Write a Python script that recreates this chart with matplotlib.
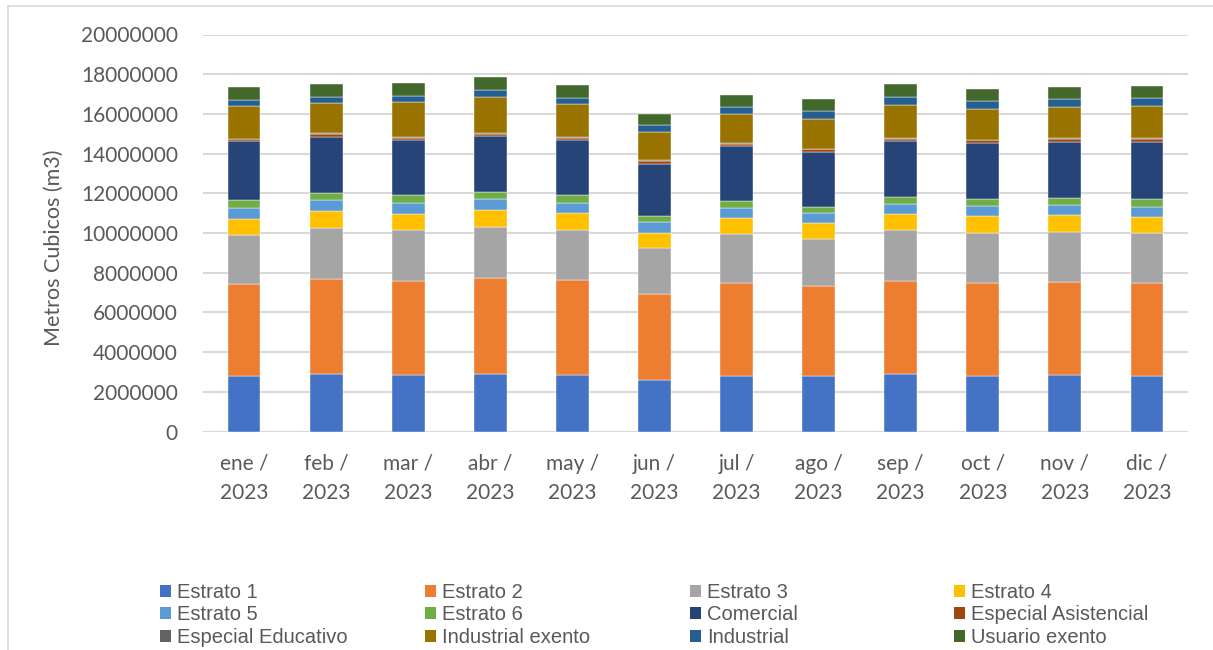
import matplotlib
matplotlib.use("Agg")
import matplotlib.pyplot as plt
from matplotlib.patches import Patch
from matplotlib.lines import Line2D
import numpy as np

months = ["ene /\n2023", "feb /\n2023", "mar /\n2023", "abr /\n2023", "may /\n2023", "jun /\n2023",
          "jul /\n2023", "ago /\n2023", "sep /\n2023", "oct /\n2023", "nov /\n2023", "dic /\n2023"]

series_names = ["Estrato 1", "Estrato 2", "Estrato 3", "Estrato 4", "Estrato 5", "Estrato 6",
                "Comercial", "Especial Asistencial", "Especial Educativo", "Industrial exento",
                "Industrial", "Usuario exento"]

# values in cubic meters
estrato_1 = [2810000, 2890000, 2860000, 2910000, 2860000, 2610000, 2790000, 2790000, 2890000, 2810000, 2860000, 2810000]
estrato_2 = [4640000, 4810000, 4740000, 4820000, 4770000, 4320000, 4680000, 4560000, 4710000, 4690000, 4690000, 4660000]
estrato_3 = [2470000, 2560000, 2540000, 2580000, 2530000, 2330000, 2480000, 2370000, 2560000, 2520000, 2520000, 2520000]
estrato_4 = [770000, 840000, 840000, 840000, 840000, 740000, 810000, 790000, 800000, 860000, 830000, 820000]
estrato_5 = [580000, 570000, 550000, 570000, 530000, 560000, 510000, 500000, 520000, 500000, 530000, 520000]
estrato_6 = [370000, 350000, 370000, 340000, 370000, 300000, 330000, 310000, 320000, 320000, 340000, 370000]
comercial = [2990000, 2830000, 2800000, 2840000, 2760000, 2640000, 2780000, 2740000, 2810000, 2840000, 2790000, 2890000]
especial_asistencial = [100000, 150000, 100000, 110000, 150000, 140000, 110000, 150000, 150000, 140000, 190000, 160000]
especial_educativo = [30000, 30000, 30000, 30000, 30000, 30000, 30000, 30000, 30000, 30000, 30000, 30000]
industrial_exento = [1620000, 1520000, 1750000, 1790000, 1640000, 1400000, 1490000, 1500000, 1650000, 1550000, 1580000, 1610000]
industrial = [330000, 280000, 300000, 350000, 320000, 350000, 320000, 420000, 390000, 370000, 370000, 390000]
usuario_exento = [660000, 670000, 660000, 660000, 650000, 590000, 640000, 600000, 660000, 600000, 610000, 620000]

series_values = [estrato_1, estrato_2, estrato_3, estrato_4, estrato_5, estrato_6, comercial,
                 especial_asistencial, especial_educativo, industrial_exento, industrial, usuario_exento]

colors = ["#4472C4", "#ED7D31", "#A5A5A5", "#FFC000", "#5B9BD5", "#70AD47",
          "#264478", "#9E480E", "#636363", "#997300", "#255E91", "#43682B"]

y_ticks = list(range(0, 20000001, 2000000))

W, H = 1213, 650
fig = plt.figure(figsize=(W / 100, H / 100), dpi=100)
fig.patch.set_facecolor("white")

ax_left, ax_right, ax_top, ax_bottom = 203, 1188, 34.5, 431.5
ax = fig.add_axes([ax_left / W, 1 - ax_bottom / H, (ax_right - ax_left) / W, (ax_bottom - ax_top) / H])

text_color = "#595959"
grid_color = "#D9D9D9"
axis_font = "Lato"
legend_font = "Liberation Sans"

x = np.arange(len(months))
bottom = np.zeros(len(months))
handles = []
for name, vals, col in zip(series_names, series_values, colors):
    v = np.array(vals, dtype=float)
    ax.bar(x, v, width=0.40, bottom=bottom, color=col, edgecolor="white", linewidth=0.3, zorder=3)
    bottom += v
    handles.append(Patch(facecolor=col, edgecolor="none", label=name))

ax.set_xlim(-0.5, len(months) - 0.5)
ax.set_ylim(0, 20000000)
ax.set_yticks(y_ticks)
ax.set_yticklabels([str(t) for t in y_ticks])
ax.set_xticks(x)
ax.set_xticklabels(months, linespacing=1.55)

for s in ["top", "right", "left", "bottom"]:
    ax.spines[s].set_visible(False)
ax.grid(axis="y", color=grid_color, linewidth=1.5, zorder=0)
ax.set_axisbelow(True)
ax.tick_params(axis="y", length=0, pad=18, labelsize=15, labelcolor=text_color)
ax.tick_params(axis="x", length=0, pad=16, labelsize=15, labelcolor=text_color)
for lab in ax.get_xticklabels() + ax.get_yticklabels():
    lab.set_fontfamily(axis_font)

ax.set_ylabel("Metros Cubicos (m3)", fontsize=15.5, color=text_color, fontfamily=axis_font)
ax.yaxis.set_label_coords((64 - ax_left) / (ax_right - ax_left), (ax_bottom - 248) / (ax_bottom - ax_top))

# legend: 4 columns, row-major order
col_x = [160, 425, 690, 954]
legend_top = 583
for c in range(4):
    hs = [handles[c + 4 * r] for r in range(3)]
    leg = fig.legend(handles=hs, loc="upper left",
                     bbox_to_anchor=(col_x[c] / W, 1 - legend_top / H),
                     frameon=False, borderpad=0, borderaxespad=0,
                     handlelength=0.55, handleheight=0.55, handletextpad=0.3,
                     labelspacing=0.17,
                     prop={"family": legend_font, "size": 14.5})
    for t in leg.get_texts():
        t.set_color(text_color)

# chart border (top and left visible)
fig.add_artist(Line2D([8 / W, 1], [1 - 6 / H, 1 - 6 / H], color=grid_color, linewidth=1.2))
fig.add_artist(Line2D([8 / W, 8 / W], [0, 1 - 6 / H], color=grid_color, linewidth=1.2))

fig.savefig("out.png", dpi=100, facecolor="white")
